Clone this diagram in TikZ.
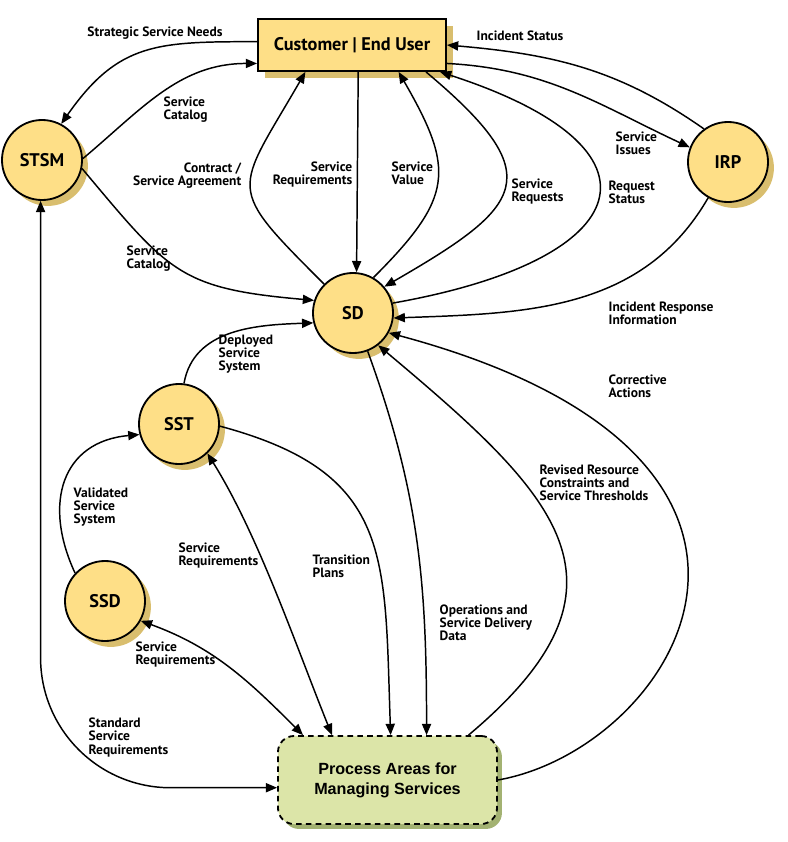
\documentclass[tikz,border=0pt]{standalone}
\usepackage{fontspec}
\setmainfont{PT Sans}
\newfontfamily\arialfont{Liberation Sans}
\usetikzlibrary{arrows.meta,shadows}

\definecolor{nodeyellow}{HTML}{FEDF87}
\definecolor{nodeshadow}{HTML}{D9BE6E}
\definecolor{areagreen}{HTML}{DCE5A8}
\definecolor{areashadow}{HTML}{A3B272}

\begin{document}
\begin{tikzpicture}[x=0.025cm,y=0.025cm,>={Triangle[length=8pt,width=6.5pt]},line width=1.05pt,
	circnode/.style={circle,draw,line width=1.3pt,fill=nodeyellow,minimum size=2cm,inner sep=0pt,
		font=\bfseries\fontsize{13}{14}\selectfont,
		drop shadow={shadow xshift=4.2pt,shadow yshift=-4.2pt,fill=nodeshadow,opacity=1}},
	userbox/.style={rectangle,draw,line width=1.3pt,fill=nodeyellow,minimum width=4.7cm,minimum height=1.3cm,
		font=\bfseries\fontsize{13}{14}\selectfont,
		drop shadow={shadow xshift=5pt,shadow yshift=-5pt,fill=nodeshadow,opacity=1}},
	areanode/.style={rectangle,rounded corners=0.4cm,draw,line width=1.3pt,dash pattern=on 4pt off 3pt,
		fill=areagreen,minimum width=5.475cm,minimum height=2.2cm,align=center,
		font=\arialfont\bfseries\fontsize{11.5}{14.2}\selectfont,
		drop shadow={shadow xshift=3.5pt,shadow yshift=-3.5pt,fill=areashadow,opacity=1}},
	lbl/.style={inner sep=0pt,font=\bfseries\fontsize{9.6}{9.3}\selectfont}]
	\useasboundingbox (0,-842) rectangle (788,0);

	% main nodes
	\node[userbox] (cust) at (352,-45) {Customer | End User};
	\node[circnode] (stsm) at (42,-160) {STSM};
	\node[circnode] (irp) at (728,-162) {IRP};
	\node[circnode] (sd) at (353,-313) {SD};
	\node[circnode] (sst) at (179,-424) {SST};
	\node[circnode] (ssd) at (105,-601) {SSD};
	\node[areanode] (area) at (387.5,-780) {Process Areas for\\Managing Services};

	% connector labels
	\node[lbl] (l_needs) at (155,-33) {Strategic Service Needs};
	\node[lbl,anchor=west,align=left] (l_cat1) at (163,-110) {Service\\Catalog};
	\node[lbl,anchor=west,align=left] (l_cat2) at (126,-258.5) {Service\\Catalog};
	\node[lbl,anchor=east,align=right] (l_contract) at (242,-176) {Contract /\\Service Agreement};
	\node[lbl,anchor=east,align=right] (l_req1) at (353,-174.5) {Service\\Requirements};
	\node[lbl,anchor=west,align=left] (l_value) at (391,-173.5) {Service\\Value};
	\node[lbl,anchor=west,align=left] (l_requests) at (511,-191.5) {Service\\Requests};
	\node[lbl,anchor=west,align=left] (l_rstatus) at (608,-192.5) {Request\\Status};
	\node[lbl,anchor=west,align=left] (l_issues) at (615,-143.5) {Service\\Issues};
	\node[lbl,anchor=west] (l_istatus) at (476,-36) {Incident Status};
	\node[lbl,anchor=west,align=left] (l_irinfo) at (608,-313.5) {Incident Response\\Information};
	\node[lbl,anchor=west,align=left] (l_deployed) at (218,-354.5) {Deployed\\Service\\System};
	\node[lbl,anchor=west,align=left] (l_validated) at (73,-507) {Validated\\Service\\System};
	\node[lbl,anchor=west,align=left] (l_req2) at (178,-555.5) {Service\\Requirements};
	\node[lbl,anchor=west,align=left] (l_plans) at (312,-566) {Transition\\Plans};
	\node[lbl,anchor=west,align=left] (l_ops) at (439,-623) {Operations and\\Service Delivery\\Data};
	\node[lbl,anchor=west,align=left] (l_revised) at (539,-483) {Revised Resource\\Constraints and\\Service Thresholds};
	\node[lbl,anchor=west,align=left] (l_corrective) at (608,-386) {Corrective\\Actions};
	\node[lbl,anchor=west,align=left] (l_standard) at (88,-737.5) {Standard\\Service\\Requirements};
	\node[lbl,anchor=west,align=left] (l_req3) at (135,-654.5) {Service\\Requirements};

	% connectors
	\path[->]
	(cust.178) edge[out=180,in=55,looseness=1.2] (stsm.62)
	(stsm.2) edge[out=40,in=180] (cust.191)
	(stsm.-12) edge[out=-50,in=175,looseness=1.3] (sd.162)
	(sd.135) edge[out=135,in=-120,looseness=1.7] (cust.210)
	(cust.283) edge (sd.85)
	(sd.60) edge[out=45,in=-60,looseness=1.4] (cust.330)
	(cust.340) edge[out=-40,in=30,looseness=1.9] (sd.40)
	(sd.14) edge[out=10,in=-18,looseness=2.7] (cust.343)
	(cust.349) edge[out=-3,in=155] (irp.159)
	(irp.126) edge[out=145,in=-5] (cust.0)
	(irp.241) edge[out=240,in=2] (sd.353)
	(sst.83) edge[out=80,in=182] (sd.194)
	(ssd.137) edge[out=115,in=185,looseness=1.3] (sst.195)
	(sst.314) edge[<->,out=-58,in=112,looseness=0.8] (area.141)
	(ssd.331) edge[<->,out=-20,in=135] (area.152)
	(sst.357) edge[out=-15,in=92,looseness=1.3] (area.86)
	(sd.291) edge[out=-70,in=90] (area.49)
	(area.29) edge[out=40,in=-40,looseness=1.5] (sd.308)
	(area.0) edge[out=10,in=-15,out looseness=1,in looseness=2.7] (sd.331);
	\draw[<->,rounded corners=3.25cm] (stsm.-92) |- (area.184);
\end{tikzpicture}
\end{document}
